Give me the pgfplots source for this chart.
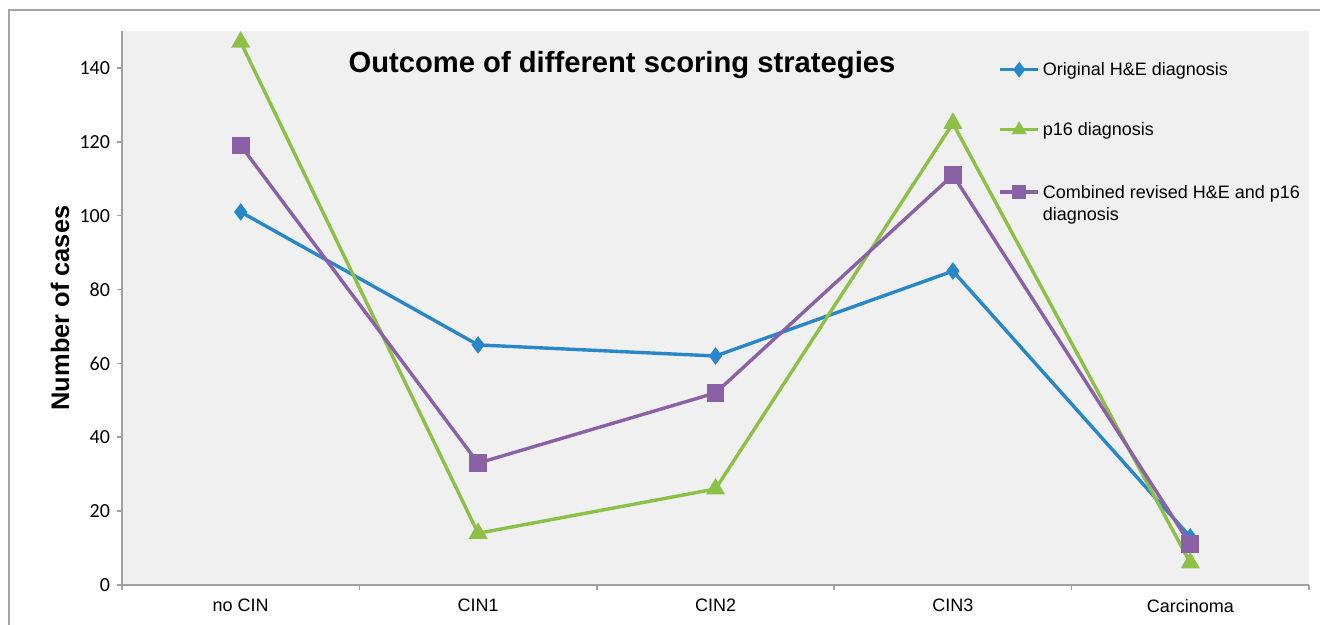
\documentclass[border=0pt]{standalone}
\usepackage{pgfplots}
\pgfplotsset{compat=1.18}
\usepackage{fontspec}
\setmainfont{Liberation Sans}
\newfontfamily\calfont{Carlito}
\definecolor{cblue}{RGB}{39,135,200}
\definecolor{cgreen}{RGB}{140,192,70}
\definecolor{cpurple}{RGB}{138,96,166}
\definecolor{bggray}{RGB}{240,240,240}
\definecolor{axgray}{RGB}{160,160,160}
\definecolor{framegray}{RGB}{165,165,165}
\begin{document}
\begin{tikzpicture}
\useasboundingbox (0,0) rectangle (660pt,312.5pt);
\draw[framegray, line width=0.8pt] (4.5pt,0) -- (4.5pt,307.5pt) -- (662pt,307.5pt);
\begin{axis}[
  scale only axis,
  width=593.5pt, height=277pt,
  at={(61pt,20pt)}, anchor=south west,
  xmin=-0.5, xmax=4.5, ymin=0, ymax=150,
  clip=false,
  axis background/.style={fill=bggray},
  axis x line*=bottom, axis y line*=left,
  axis line style={-, draw=axgray, line width=0.8pt},
  xtick={0,1,2,3,4},
  xticklabels={no CIN, CIN1, CIN2, CIN3, Carcinoma},
  minor xtick={-0.5,0.5,1.5,2.5,3.5,4.5},
  ytick={0,20,40,60,80,100,120,140},
  tick align=outside,
  major tick length=2.5pt, minor tick length=2.5pt,
  major x tick style={draw=none},
  tick style={draw=axgray, line width=0.8pt},
  xticklabel style={font=\fontsize{9}{11}\selectfont, yshift=-1pt},
  yticklabel style={font=\calfont\fontsize{10}{12}\selectfont},
  yticklabel={\pgfmathprintnumber{\tick}\hspace{3.5pt}},
  /pgf/number format/assume math mode=true,
  ylabel={Number of cases},
  ylabel style={font=\bfseries\fontsize{12.7}{14}\selectfont, at={(axis description cs:-0.0522,0.5)}, anchor=center},
  legend cell align=left,
  legend style={at={(rel axis cs:0.7330,0.958)}, anchor=north west, draw=none, fill=none,
    font=\fontsize{9}{11}\selectfont, row sep=18pt, cells={anchor=base west},
    nodes={inner xsep=1.5pt},
    /tikz/every even column/.append style={column sep=0pt}},
  legend image code/.code={\draw[mark repeat=2,mark phase=2,yshift=3pt,mark size=2.6pt] plot coordinates {(0pt,0pt) (9.5pt,0pt) (19pt,0pt)};},
]
\addplot[cblue, line width=1.7pt, mark=diamond*, mark size=3pt, mark options={solid, fill=cblue}]
  coordinates {(0,101) (1,65) (2,62) (3,85) (4,13)};
\addlegendentry{Original H\&E diagnosis}
\addplot[cgreen, line width=1.7pt, mark=triangle*, mark size=3.8pt, mark options={solid, fill=cgreen}]
  coordinates {(0,147) (1,14) (2,26) (3,125) (4,6)};
\addlegendentry{p16 diagnosis}
\addplot[cpurple, line width=1.7pt, mark=square*, mark size=3.6pt, mark options={solid, fill=cpurple}]
  coordinates {(0,119) (1,33) (2,52) (3,111) (4,11)};
\addlegendentry{\begin{tabular}[t]{@{}l@{}}Combined revised H\&E and p16\\diagnosis\end{tabular}}
\node[font=\bfseries\fontsize{14.6}{16}\selectfont] at (rel axis cs:0.4212,0.9386) {Outcome of different scoring strategies};
\end{axis}
\end{tikzpicture}
\end{document}
